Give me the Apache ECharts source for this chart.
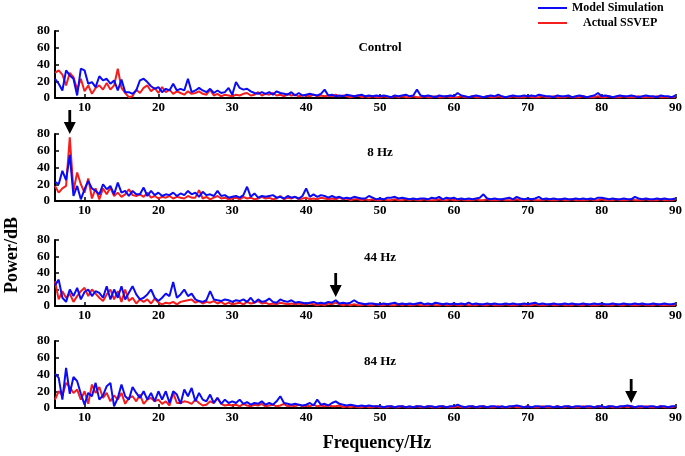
<!DOCTYPE html>
<html>
<head>
<meta charset="utf-8">
<script src="https://cdn.jsdelivr.net/npm/echarts@6/dist/echarts.min.js"></script>
<style>html,body{margin:0;padding:0;background:#fff}#c{width:685px;height:456px}</style>
</head>
<body>
<div id="c"></div>
<script>
// Frequency grid (Hz) and tick labels
const FREQ_START = 6, FREQ_STEP = 0.5;
const X_TICKS = [10, 20, 30, 40, 50, 60, 70, 80, 90];
const Y_TICKS = [0, 20, 40, 60, 80];
const PANEL_TITLES = ['Control', '8 Hz', '44 Hz', '84 Hz'];
const ARROW_FREQ = [null, 8, 44, 84];
const ARROW_TIP = [null, 80, 11, 6];

// Panel 1: Control
const blueControl = [
23,17,9,33,27,23,3,35,
33,17,19,13,26,21,23,17,21,9,22,7,7,5,9,21,23,19,14,11,
13,7,11,9,17,9,11,9,23,7,9,12,9,7,11,6,9,6,7,12,
4,19,12,10,11,8,6,5,7,5,7,4,8,6,5,4,7,3,6,3,
4,5,4,3,5,10,3,4,2,3,2,4,3,2,3,4,2,3,2,3,
2,3,2,1,3,2,3,4,2,3,10,3,2,3,2,1,3,2,2,3,
2,6,3,2,1,2,3,2,1,2,3,2,4,2,1,2,3,2,2,3,
2,3,2,4,3,2,2,1,3,2,2,3,1,2,3,2,1,2,3,6,
2,3,2,1,2,3,2,2,3,2,1,2,3,2,2,1,3,2,2,1,
3];
const redControl = [
30,33,28,15,30,25,10,23,
8,15,5,12,15,10,18,10,15,35,12,6,1,2,10,6,12,15,8,12,
6,13,7,10,5,8,6,4,8,5,6,8,5,4,10,3,5,2,4,3,
2,4,3,5,6,3,4,7,3,5,4,6,3,4,2,5,3,4,2,3,
3,2,4,2,3,2,3,2,4,2,3,2,1,2,3,1,2,1,2,1,
1,2,1,1,2,1,2,1,1,2,1,1,2,1,1,2,1,1,2,1,
1,1,2,1,1,2,1,1,1,2,1,1,2,1,1,1,2,1,1,1,
2,1,1,1,2,1,1,2,1,1,1,2,1,1,1,2,1,1,1,2,
1,1,2,1,1,1,2,1,1,1,2,1,1,1,1,2,1,1,1,1,
1];
// Panel 2: 8 Hz
const blue8 = [
23,20,36,25,55,6,18,2,
14,24,15,12,8,20,14,18,8,22,10,12,6,12,8,8,16,6,12,7,
10,6,8,7,10,6,9,7,12,8,10,5,11,7,8,6,12,6,7,4,
5,6,4,7,17,5,9,4,6,5,6,7,4,5,3,6,4,5,3,6,
15,5,8,5,7,6,4,6,4,5,3,4,3,5,4,3,3,6,4,2,
3,2,4,4,5,3,4,3,2,3,2,3,3,2,4,3,5,2,4,3,
4,2,3,2,3,2,3,4,8,3,2,3,2,2,3,4,2,5,3,2,
3,2,3,5,2,3,2,3,2,2,3,2,2,3,2,3,2,3,2,4,
4,3,2,3,2,2,3,2,2,5,3,2,3,2,2,3,2,3,2,2,
3];
const red8 = [
18,10,15,18,76,12,34,20,
10,27,3,15,2,15,8,16,6,10,5,8,14,7,6,8,5,10,4,6,
3,5,4,6,3,5,4,3,6,4,4,13,3,5,2,4,6,3,4,2,
3,4,2,5,3,4,2,3,5,3,4,2,3,6,2,4,3,5,2,3,
4,2,3,2,4,3,2,3,2,4,2,3,1,2,2,1,2,1,2,1,
1,2,1,1,2,1,1,2,1,2,1,1,2,1,1,1,2,1,1,2,
1,1,2,1,1,1,2,1,1,2,1,1,1,2,1,1,1,2,1,1,
1,2,1,1,1,2,1,1,1,2,1,1,2,1,1,1,1,2,1,1,
2,1,1,1,2,1,1,1,2,1,1,1,2,1,1,1,2,1,1,1,
2];
// Panel 3: 44 Hz
const blue44 = [
25,32,10,5,20,12,22,8,
17,20,12,18,16,10,24,8,20,10,24,8,16,24,14,8,10,14,20,10,
6,10,15,12,29,10,14,20,12,15,8,6,5,7,18,8,7,6,8,7,
5,7,6,8,5,10,4,8,5,6,9,5,4,8,6,5,7,4,5,4,
3,4,5,3,4,3,5,4,7,3,4,3,4,7,4,3,2,3,3,2,
2,3,2,3,4,2,3,2,3,2,3,4,2,3,2,4,3,2,3,2,
3,2,3,2,4,2,3,2,2,3,2,3,2,2,3,2,3,2,2,3,
2,3,4,2,3,2,2,3,2,2,3,2,3,2,2,3,2,2,3,2,
3,2,2,3,2,2,3,2,2,3,2,3,2,2,3,2,2,3,2,2,
3];
const red44 = [
30,8,18,10,15,5,12,18,
22,12,20,15,10,6,14,20,8,18,5,20,6,10,3,8,5,8,3,9,
4,2,4,3,5,2,5,6,7,8,4,6,3,5,4,6,3,5,2,4,
2,3,4,2,5,3,4,6,3,4,2,3,2,4,3,2,3,2,3,2,
2,3,2,1,2,1,3,2,4,2,1,2,1,2,1,1,2,1,1,2,
1,1,2,1,1,2,1,2,1,1,2,1,1,1,2,1,1,2,1,1,
2,1,1,2,1,1,1,2,1,1,2,1,1,1,2,1,1,1,2,1,
1,1,2,1,1,1,2,1,1,2,1,1,1,2,1,1,2,1,1,1,
2,1,1,1,2,1,1,2,1,1,1,2,1,1,1,2,1,1,1,1,
1];
// Panel 4: 84 Hz
const blue84 = [
41,36,10,48,17,37,32,17,
4,18,14,30,10,15,26,30,2,12,28,14,10,25,18,12,20,10,18,8,
20,10,20,6,20,16,5,22,14,24,8,18,10,8,16,6,12,5,10,6,
8,6,10,5,7,4,6,5,8,4,6,4,8,14,6,5,4,5,4,3,
4,6,3,10,4,5,3,6,8,5,4,3,4,3,2,3,2,3,2,2,
2,1,2,2,1,2,2,1,2,1,2,2,1,2,2,1,2,2,1,2,
2,4,2,1,2,2,1,2,2,1,2,2,1,2,1,2,2,3,2,1,
2,1,2,2,1,2,2,1,2,1,2,2,1,2,2,1,2,2,1,2,
2,1,2,2,1,2,2,3,2,1,2,2,1,2,2,1,2,2,1,2,
2];
const red84 = [
10,20,15,30,25,18,22,10,
20,5,28,18,25,12,18,8,15,10,18,5,12,14,8,16,5,10,12,8,
10,5,8,3,18,6,6,8,7,5,10,6,3,4,8,6,12,5,3,4,
3,4,2,5,3,2,4,3,5,2,3,4,2,3,5,2,3,2,4,2,
3,2,4,2,3,2,3,2,2,3,1,2,1,2,1,1,2,1,1,2,
1,1,1,2,1,1,2,1,1,1,2,1,1,2,1,1,1,2,1,1,
1,2,1,1,1,2,1,1,2,1,1,1,2,1,1,1,2,1,1,1,
2,1,1,1,2,1,1,1,2,1,1,2,1,1,1,2,1,1,1,2,
1,1,2,1,1,1,2,1,2,1,1,1,2,1,1,1,2,1,1,1,
2];

const BLUE = [blueControl, blue8, blue44, blue84];
const RED = [redControl, red8, red44, red84];
const freqs = blueControl.map((_, i) => FREQ_START + i * FREQ_STEP);
const pairs = arr => arr.map((v, i) => [freqs[i], v]);

const FONT = 'Liberation Serif';
const gridTops = [31, 134, 240, 341];
const gridHeights = [67, 67, 66, 67];
const titleY = [48, 153, 258, 362];
const BLUE_C = '#0b0bf5', RED_C = '#f51e1e';
const ARROW = 'path://M4.6,0 L7.4,0 L7.4,12 L12,12 L6,24 L0,12 L4.6,12 Z';

const grids = [], xAxes = [], yAxes = [], series = [], graphics = [];
for (let p = 0; p < 4; p++) {
  grids.push({left: 55, right: 9, top: gridTops[p], height: gridHeights[p]});
  xAxes.push({
    type: 'value', gridIndex: p, min: FREQ_START, max: 90,
    axisLine: {show: true, onZero: false, lineStyle: {color: '#000', width: 2}},
    axisTick: {show: true, inside: true, length: 4, customValues: X_TICKS, lineStyle: {color: '#000', width: 1.5}},
    axisLabel: {customValues: X_TICKS, color: '#000', fontFamily: FONT, fontWeight: 'bold', fontSize: 13, margin: 3},
    splitLine: {show: false}
  });
  yAxes.push({
    type: 'value', gridIndex: p, min: Y_TICKS[0], max: Y_TICKS[Y_TICKS.length - 1], interval: 20,
    axisLine: {show: true, lineStyle: {color: '#000', width: 2}},
    axisTick: {show: true, inside: true, length: 4, lineStyle: {color: '#000', width: 1.5}},
    axisLabel: {color: '#000', fontFamily: FONT, fontWeight: 'bold', fontSize: 13, margin: 5},
    splitLine: {show: false}
  });
  series.push({
    name: 'Actual SSVEP', type: 'line', xAxisIndex: p, yAxisIndex: p,
    data: pairs(RED[p]), symbol: 'none', color: RED_C,
    lineStyle: {color: RED_C, width: 2}, z: 2
  });
  const blue = {
    name: 'Model Simulation', type: 'line', xAxisIndex: p, yAxisIndex: p,
    data: pairs(BLUE[p]), symbol: 'none', color: BLUE_C,
    lineStyle: {color: BLUE_C, width: 2}, z: 3
  };
  if (ARROW_FREQ[p] !== null) {
    blue.markPoint = {
      symbol: ARROW, symbolSize: [12, 24], symbolOffset: [0, '-50%'],
      itemStyle: {color: '#000'}, label: {show: false}, silent: true,
      data: [{coord: [ARROW_FREQ[p], ARROW_TIP[p]]}]
    };
  }
  series.push(blue);
  graphics.push({
    type: 'text', x: 380, y: titleY[p],
    style: {text: PANEL_TITLES[p], font: 'bold 13px "' + FONT + '"', fill: '#000', align: 'center', verticalAlign: 'middle'}
  });
}
graphics.push({
  type: 'text', x: 12, y: 255, rotation: Math.PI / 2,
  style: {text: 'Power/dB', font: 'bold 18px "' + FONT + '"', fill: '#000', align: 'center', verticalAlign: 'middle'}
});
graphics.push({
  type: 'text', x: 377, y: 443,
  style: {text: 'Frequency/Hz', font: 'bold 18px "' + FONT + '"', fill: '#000', align: 'center', verticalAlign: 'middle'}
});

const chart = echarts.init(document.getElementById('c'));
chart.setOption({
  animation: false,
  backgroundColor: '#fff',
  legend: {
    data: ['Model Simulation', 'Actual SSVEP'],
    orient: 'vertical', left: 533, top: -3, itemWidth: 29, itemHeight: 2, itemGap: 3,
    icon: 'rect',
    formatter: name => name === 'Actual SSVEP' ? '{pad|}' + name : name,
    textStyle: {color: '#000', fontFamily: FONT, fontWeight: 'bold', fontSize: 12,
      rich: {pad: {width: 11}}}
  },
  grid: grids, xAxis: xAxes, yAxis: yAxes, series: series, graphic: graphics
});
</script>
</body>
</html>
